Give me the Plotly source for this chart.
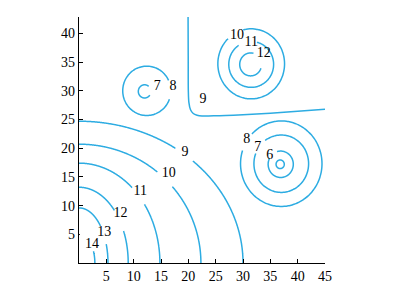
import numpy as np
import plotly.graph_objects as go

# ---- data ----
x_ticks = [5, 10, 15, 20, 25, 30, 35, 40, 45]
y_ticks = [5, 10, 15, 20, 25, 30, 35, 40]

# elliptical / circular contours: level, centre, radii, visible arcs (deg)
ell_level = [9, 10, 11, 12, 13, 14,
             8, 7,
             10, 11, 12,
             8, 7, 6, 5.5]
ell_cx = [0, 0, 0, 0, 0, 0,
          12.4, 12.0,
          31.5, 31.5, 31.4,
          37.0, 37.0, 36.9, 36.8]
ell_cy = [0, 0, 0, 0, 0, 0,
          30.0, 29.9,
          34.7, 34.6, 34.6,
          17.3, 17.3, 17.2, 17.2]
ell_rx = [30.0, 22.3, 14.8, 9.0, 5.3, 2.9,
          4.4, 1.15,
          6.1, 4.1, 2.0,
          7.45, 5.0, 2.3, 0.75]
ell_ry = [24.7, 20.7, 17.4, 13.2, 9.6, 5.0,
          4.3, 1.15,
          6.1, 4.0, 2.0,
          7.45, 5.0, 2.3, 0.75]
ell_arcs = [
    [(0, 46), (54, 90)],
    [(0, 40), (50, 90)],
    [(0, 36), (49, 90)],
    [(0, 25), (44, 90)],
    [(0, 20), (42, 90)],
    [(0, 24)],
    [(25, 340)],
    [(50, 325)],
    [(-226, 104)],
    [(-236, 75)],
    [(75, 340)],
    [(-198, 136)],
    [(-201, 126)],
    [(-207, 107)],
    [(0, 360)],
]

# the saddle-shaped level-9 curve (x, y points)
sad_x = [19.95, 19.98, 20.0, 20.1, 20.4, 20.9, 21.6, 22.5, 25, 30, 35, 40, 45]
sad_y = [43.2, 36.0, 30.0, 28.0, 26.7, 26.05, 25.75, 25.62, 25.65, 25.85, 26.1, 26.45, 26.8]

# contour labels
lab_text = ["9", "10", "11", "12", "13", "14",
            "7", "8", "9",
            "10", "11", "12",
            "8", "7", "6"]
lab_x = [19.4, 16.4, 11.2, 7.6, 4.6, 2.4,
         14.3, 17.2, 22.7,
         28.9, 31.5, 33.8,
         30.7, 32.7, 34.9]
lab_y = [19.3, 15.6, 12.4, 8.6, 5.3, 3.3,
         30.7, 30.7, 28.4,
         39.7, 38.4, 36.5,
         21.6, 20.2, 18.8]

LINE = "rgb(45,172,226)"
FONT = "Liberation Serif, Times New Roman, serif"

fig = go.Figure()

for lev, cx, cy, rx, ry, arcs in zip(ell_level, ell_cx, ell_cy, ell_rx, ell_ry, ell_arcs):
    xs, ys = [], []
    for a0, a1 in arcs:
        t = np.radians(np.linspace(a0, a1, 120))
        xs += list(cx + rx * np.cos(t)) + [None]
        ys += list(cy + ry * np.sin(t)) + [None]
    fig.add_trace(go.Scatter(x=xs, y=ys, mode="lines",
                             line=dict(color=LINE, width=1.5, shape="spline"),
                             hoverinfo="skip", showlegend=False))

fig.add_trace(go.Scatter(x=sad_x, y=sad_y, mode="lines",
                         line=dict(color=LINE, width=1.5, shape="spline", smoothing=0.8),
                         hoverinfo="skip", showlegend=False))

fig.add_trace(go.Scatter(x=lab_x, y=lab_y, mode="text", text=lab_text,
                         textfont=dict(family=FONT, size=14, color="black"),
                         hoverinfo="skip", showlegend=False))

# small breaks seen on the left axis of the reference
fig.add_shape(type="rect", xref="x", yref="y", x0=-0.4, x1=0.3, y0=2.4, y1=4.5,
              fillcolor="white", line=dict(width=0), layer="above")
fig.add_shape(type="rect", xref="x", yref="y", x0=0.15, x1=1.0, y0=4.6, y1=5.4,
              fillcolor="white", line=dict(width=0), layer="above")

fig.update_layout(
    width=397, height=306,
    margin=dict(l=79, r=72, t=17, b=43),
    paper_bgcolor="white", plot_bgcolor="white",
    font=dict(family=FONT, size=14, color="black"),
    xaxis=dict(range=[0, 45], tickvals=x_ticks, ticks="inside", ticklen=4,
               tickcolor="black", showline=True, linecolor="black", linewidth=1.2,
               tickfont=dict(family=FONT, size=14, color="black"),
               showgrid=False, zeroline=False, fixedrange=True),
    yaxis=dict(range=[0, 42.86], tickvals=y_ticks, ticks="inside", ticklen=4,
               tickcolor="black", showline=True, linecolor="black", linewidth=1.2,
               tickfont=dict(family=FONT, size=14, color="black"),
               showgrid=False, zeroline=False, fixedrange=True),
)

fig.write_html("out.html")
